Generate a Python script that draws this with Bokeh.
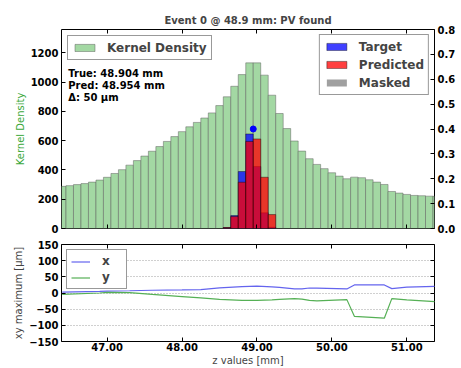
import math
from bokeh.plotting import figure
from bokeh.models import (Range1d, LinearAxis, Legend, LegendItem, Label,
                          FixedTicker, CustomLabelingPolicy)
from bokeh.layouts import column
from bokeh.embed import file_html
from bokeh.resources import INLINE

FONT = "DejaVu Sans"

# ---------------- data ----------------
bin_z = [46.4, 46.5, 46.6, 46.7, 46.8, 46.9, 47.0, 47.1, 47.2, 47.3,
         47.4, 47.5, 47.6, 47.7, 47.8, 47.9, 48.0, 48.1, 48.2, 48.3,
         48.4, 48.5, 48.6, 48.7, 48.8, 48.9, 49.0, 49.1, 49.2, 49.3,
         49.4, 49.5, 49.6, 49.7, 49.8, 49.9, 50.0, 50.1, 50.2, 50.3,
         50.4, 50.5, 50.6, 50.7, 50.8, 50.9, 51.0, 51.1, 51.2, 51.3, 51.4]
kernel = [288, 293, 300, 307, 317, 331, 350, 376, 402, 433,
          464, 495, 528, 560, 595, 628, 662, 695, 725, 755,
          790, 840, 900, 972, 1052, 1132, 1132, 1048, 911, 786,
          683, 598, 529, 477, 438, 409, 381, 358, 340, 351,
          347, 333, 317, 301, 253, 242, 233, 226, 224, 221, 220]

prob_z = [48.6, 48.7, 48.8, 48.9, 49.0, 49.1, 49.2]
target = [0.004, 0.052, 0.229, 0.380, 0.249, 0.063, 0.005]
predicted = [0.004, 0.048, 0.186, 0.350, 0.360, 0.206, 0.056]
masked = [0, 0, 0, 0, 0, 0, 0]

dot_z = [48.95]
dot_p = [0.40]

info_lines = ["True: 48.904 mm", "Pred: 48.954 mm", "\u0394: 50 \u00b5m"]

xy_z = [46.4, 46.9, 47.0, 47.3, 47.6, 48.0, 48.25, 48.5, 48.8, 49.0, 49.2,
        49.3, 49.5, 49.6, 49.7, 49.8, 50.2, 50.3, 50.7, 50.8, 51.0, 51.4]
x_max = [3, 5, 6, 7, 8.5, 9.5, 10.5, 16, 20, 21, 19,
         17.5, 12.5, 12.5, 15.5, 15, 12.5, 25, 25, 13.5, 18, 20.5]
y_max = [-4.5, 0, 2, 1, -4.5, -11, -15, -20, -23, -23, -21.5,
         -20, -17.5, -19, -23, -24.5, -20.5, -72, -78, -17.5, -21.5, -27]

x_ticks = [47, 48, 49, 50, 51]
x_tick_labels = ["47.00", "48.00", "49.00", "50.00", "51.00"]
kd_ticks = [0, 200, 400, 600, 800, 1000, 1200]
kd_tick_labels = ["0", "200", "400", "600", "800", "1000", "1200"]
prob_ticks = [0.0, 0.1, 0.2, 0.3, 0.4, 0.5, 0.6, 0.7, 0.8]
prob_tick_labels = ["0.0", "0.1", "0.2", "0.3", "0.4", "0.5", "0.6", "0.7", "0.8"]
xy_ticks = [-150, -100, -50, 0, 50, 100, 150]
xy_tick_labels = ["\u2212150", "\u2212100", "\u221250", "0", "50", "100", "150"]

title_text = "Event 0 @ 48.9 mm: PV found"

NO_LABELS = CustomLabelingPolicy(code="""
for (const i of [...indices]) { indices.unset(i) }
return indices
""")


def make_axis(ticks, labels, show_labels=True, **kw):
    ax = LinearAxis(**kw)
    ax.ticker = FixedTicker(ticks=ticks)
    ax.major_label_overrides = {t: l for t, l in zip(ticks, labels)}
    ax.axis_line_color = None
    ax.major_tick_in = 4
    ax.major_tick_out = 0
    ax.minor_tick_in = 0
    ax.minor_tick_out = 0
    ax.major_tick_line_color = "black"
    ax.major_label_text_font = FONT
    ax.major_label_text_font_size = "10px"
    ax.major_label_text_font_style = "bold"
    ax.major_label_text_color = "black"
    ax.major_label_standoff = 3
    ax.axis_label_text_font = FONT
    ax.axis_label_text_font_size = "10px"
    ax.axis_label_text_font_style = "normal"
    ax.axis_label_standoff = 2
    if not show_labels:
        ax.major_label_policy = NO_LABELS
        ax.major_label_text_font_size = "1px"
        ax.major_label_standoff = 0
    return ax


xr = Range1d(46.39, 51.37)

# ---------------- top panel ----------------
p1 = figure(width=461, height=234, x_range=xr, y_range=Range1d(0, 1360),
            output_backend="svg", toolbar_location=None,
            x_axis_location=None, y_axis_location=None,
            min_border_left=61, min_border_right=27,
            min_border_top=29, min_border_bottom=6)
p1.extra_y_ranges = {"prob": Range1d(0, 0.8)}
p1.grid.visible = False
p1.outline_line_color = "black"
p1.outline_line_width = 1
p1.background_fill_color = "white"
p1.border_fill_color = "white"

p1.title.text = title_text
p1.title.align = "center"
p1.title.text_font = FONT
p1.title.text_font_size = "10px"
p1.title.text_font_style = "bold"
p1.title.standoff = 0

ax_l = make_axis(kd_ticks, kd_tick_labels, axis_label="Kernel Density")
ax_l.axis_label_text_color = "#3aa83a"
p1.add_layout(ax_l, "left")
ax_r = make_axis(prob_ticks, prob_tick_labels, y_range_name="prob")
p1.add_layout(ax_r, "right")
p1.add_layout(make_axis(x_ticks, x_tick_labels, show_labels=False), "below")
p1.add_layout(make_axis(x_ticks, x_tick_labels, show_labels=False), "above")

r_kd = p1.vbar(x=bin_z, top=kernel, width=0.1, bottom=0,
               fill_color="#a3d8a3", line_color="#5a5a5a", line_alpha=0.6,
               line_width=0.8)
r_t = p1.vbar(x=prob_z, top=target, width=0.1, bottom=0, y_range_name="prob",
              fill_color="blue", fill_alpha=0.75, line_color="black",
              line_alpha=0.5, line_width=0.8)
r_p = p1.vbar(x=prob_z, top=predicted, width=0.1, bottom=0, y_range_name="prob",
              fill_color="red", fill_alpha=0.75, line_color="black",
              line_alpha=0.5, line_width=0.8)
r_m = p1.vbar(x=prob_z, top=masked, width=0.1, bottom=0, y_range_name="prob",
              fill_color="gray", fill_alpha=0.75, line_color="gray",
              line_alpha=0.0)
p1.scatter(x=dot_z, y=dot_p, size=6, color="blue", y_range_name="prob")


def style_legend(leg):
    leg.label_text_font = FONT
    leg.label_text_font_size = "12px"
    leg.label_text_font_style = "bold"
    leg.border_line_color = "#333333"
    leg.border_line_width = 1
    leg.background_fill_alpha = 1.0
    leg.glyph_width = 25
    leg.glyph_height = 9
    leg.label_standoff = 10
    leg.label_height = 15
    leg.spacing = 3
    leg.padding = 4
    leg.margin = 6


leg1 = Legend(items=[LegendItem(label="Kernel Density", renderers=[r_kd])],
              location="top_left")
style_legend(leg1)
p1.add_layout(leg1)

leg2 = Legend(items=[LegendItem(label="Target", renderers=[r_t]),
                     LegendItem(label="Predicted", renderers=[r_p]),
                     LegendItem(label="Masked", renderers=[r_m])],
              location="top_right")
style_legend(leg2)
leg2.margin = 5
p1.add_layout(leg2)

for txt, yv in zip(info_lines, [1061, 977, 897]):
    p1.add_layout(Label(x=46.48, y=yv, text=txt, text_font=FONT,
                        text_font_size="10px", text_font_style="bold",
                        text_baseline="middle", text_color="black"))

# right-hand axis caption; in the reference it is cut by the picture's edge
p1.add_layout(Label(x=51.67, y=0.4, y_range_name="prob", text="Probability",
                    angle=math.pi / 2, text_align="center",
                    text_baseline="top", text_color="red", text_font=FONT,
                    text_font_size="10px"))

# ---------------- bottom panel ----------------
p2 = figure(width=461, height=134, x_range=xr, y_range=Range1d(-150, 150),
            output_backend="svg", toolbar_location=None,
            x_axis_location=None, y_axis_location=None,
            min_border_left=61, min_border_right=27,
            min_border_top=10, min_border_bottom=25)
p2.outline_line_color = "black"
p2.outline_line_width = 1
p2.xgrid.visible = False
p2.ygrid.ticker = FixedTicker(ticks=xy_ticks)
p2.ygrid.grid_line_color = "#888888"
p2.ygrid.grid_line_dash = "1 2"
p2.ygrid.grid_line_width = 0.8

ax_b = make_axis(x_ticks, x_tick_labels, axis_label="z values [mm]")
ax_b.major_label_standoff = 1
ax_b.axis_label_standoff = 1
p2.add_layout(ax_b, "below")
ax_l2 = make_axis(xy_ticks, xy_tick_labels, axis_label="xy maximum [\u00b5m]")
p2.add_layout(ax_l2, "left")
p2.add_layout(make_axis(x_ticks, x_tick_labels, show_labels=False), "above")
p2.add_layout(make_axis(xy_ticks, xy_tick_labels, show_labels=False), "right")

r_x = p2.line(xy_z, x_max, line_color="#6464ee", line_width=1.2)
r_y = p2.line(xy_z, y_max, line_color="#55b055", line_width=1.2)

leg3 = Legend(items=[LegendItem(label="x", renderers=[r_x]),
                     LegendItem(label="y", renderers=[r_y])],
              location="top_left")
style_legend(leg3)
leg3.glyph_width = 19
leg3.label_standoff = 12
leg3.label_height = 13
leg3.spacing = 2
leg3.padding = 4
leg3.margin = 5
p2.add_layout(leg3)

layout = column(p1, p2)
open("out.html", "w").write(file_html(layout, INLINE))
